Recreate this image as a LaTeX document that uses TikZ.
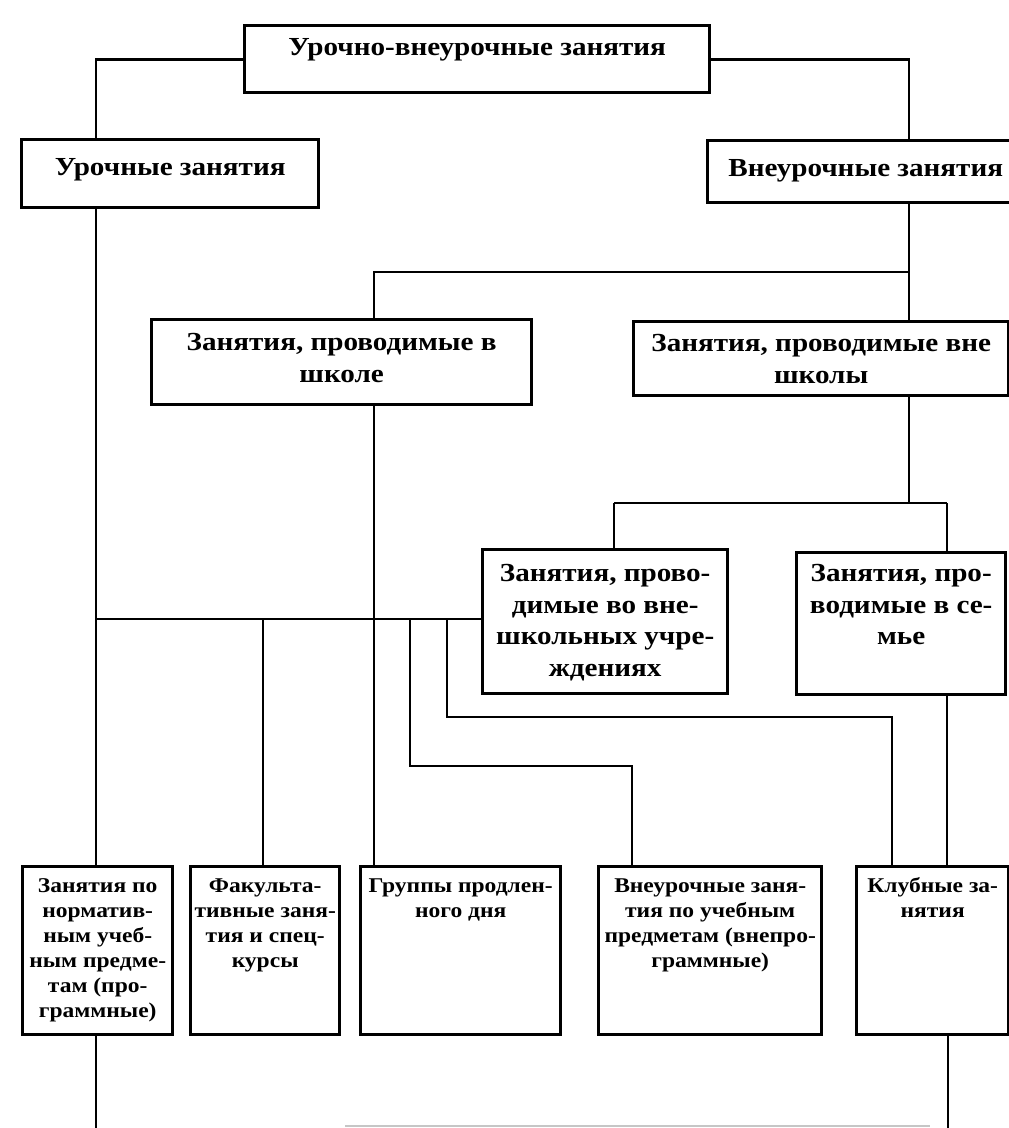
\documentclass[tikz,border=0pt]{standalone}
\usepackage{fontspec}
\setmainfont[FakeStretch=1.12]{Liberation Serif}
\newcommand{\szA}{\fontsize{26}{31.5}\selectfont\bfseries}
\newcommand{\szB}{\fontsize{21}{25}\selectfont\bfseries}
\tikzset{
  box/.style={draw, line width=3.4pt, inner sep=0pt, anchor=north west, fill=white},
  conn/.style={line width=2.8pt},
}
\begin{document}
\begin{tikzpicture}[x=1pt,y=-1pt]
\clip (0,0) rectangle (1009,1128);
\fill[white] (0,0) rectangle (1009,1128);
% boxes
\node[box] (top) at (243,24) {\parbox[c][67pt][t]{465pt}{\centering\szA\rule{0pt}{30pt}Урочно-внеурочные занятия}};
\node[box] (uroch) at (20,138) {\parbox[c][68pt][t]{297pt}{\centering\szA\rule{0pt}{36pt}Урочные занятия}};
\node[box] (vneuroch) at (706,139) {\parbox[c][62pt][t]{316pt}{\centering\szA\rule{0pt}{36pt}Внеурочные занятия}};
\node[box] (vshk) at (150,318) {\parbox[c][85pt][t]{380pt}{\centering\szA\rule{0pt}{31pt}Занятия, проводимые в\\школе}};
\node[box] (vneshk) at (632,320) {\parbox[c][74pt][t]{375pt}{\centering\szA\rule{0pt}{30pt}Занятия, проводимые вне\\школы}};
\node[box] (vnuch) at (481,548) {\parbox[c][144pt][t]{245pt}{\centering\szA\rule{0pt}{32pt}Занятия, прово-\\димые во вне-\\школьных учре-\\ждениях}};
\node[box] (semya) at (795,551) {\parbox[c][142pt][t]{209pt}{\centering\szA\rule{0pt}{29pt}Занятия, про-\\водимые в се-\\мье}};
\node[box] (b1) at (21,865) {\parbox[c][168pt][t]{150pt}{\centering\szB\rule{0pt}{26pt}Занятия по\\норматив-\\ным учеб-\\ным предме-\\там (про-\\граммные)}};
\node[box] (b2) at (189,865) {\parbox[c][168pt][t]{149pt}{\centering\szB\rule{0pt}{26pt}Факульта-\\тивные заня-\\тия и спец-\\курсы}};
\node[box] (b3) at (359,865) {\parbox[c][168pt][t]{200pt}{\centering\szB\rule{0pt}{26pt}Группы продлен-\\ного дня}};
\node[box] (b4) at (597,865) {\parbox[c][168pt][t]{223pt}{\centering\szB\rule{0pt}{26pt}Внеурочные заня-\\тия по учебным\\предметам (внепро-\\граммные)}};
\node[box] (b5) at (855,865) {\parbox[c][168pt][t]{152pt}{\centering\szB\rule{0pt}{26pt}Клубные за-\\нятия}};
% junction coordinates
\coordinate (j1) at (909,272);
\coordinate (j2) at (374,272);
\coordinate (j3) at (614,503);
\coordinate (j4) at (947,503);
\coordinate (h0) at (96,619);
\coordinate (k2) at (263,619);
\coordinate (k4a) at (410,619);
\coordinate (k4b) at (410,766);
\coordinate (k4c) at (632,766);
\coordinate (k5a) at (447,619);
\coordinate (k5b) at (447,717);
\coordinate (k5c) at (892,717);
\coordinate (e1) at (96,1128);
\coordinate (e2) at (948,1128);
\coordinate (g1) at (345,1126);
\coordinate (g2) at (930,1126);
% connectors
\draw[conn] (top.west) -| (uroch.north -| h0);
\draw[conn] (top.east) -| (vneuroch.north -| j1);
\draw[conn] (uroch.south -| h0) -- (b1.north -| h0);
\draw[conn] (b1.south -| e1) -- (e1);
\draw[conn] (vneuroch.south -| j1) -- (vneshk.north -| j1);
\draw[conn] (j1) -- (j2) -- (vshk.north -| j2);
\draw[conn] (vshk.south -| j2) -- (b3.north -| j2);
\draw[conn] (vneshk.south -| j1) -- (j3 -| j1);
\draw[conn] (j3) -- (j4);
\draw[conn] (j3) -- (vnuch.north -| j3);
\draw[conn] (j4) -- (semya.north -| j4);
\draw[conn] (semya.south -| j4) -- (b5.north -| j4);
\draw[conn] (h0) -- (h0 -| vnuch.west);
\draw[conn] (k2) -- (b2.north -| k2);
\draw[conn] (k4a) -- (k4b) -- (k4c) -- (b4.north -| k4c);
\draw[conn] (k5a) -- (k5b) -- (k5c) -- (b5.north -| k5c);
\draw[conn] (b5.south -| e2) -- (e2);
\draw[gray!45, line width=2pt] (g1) -- (g2);
\end{tikzpicture}
\end{document}
